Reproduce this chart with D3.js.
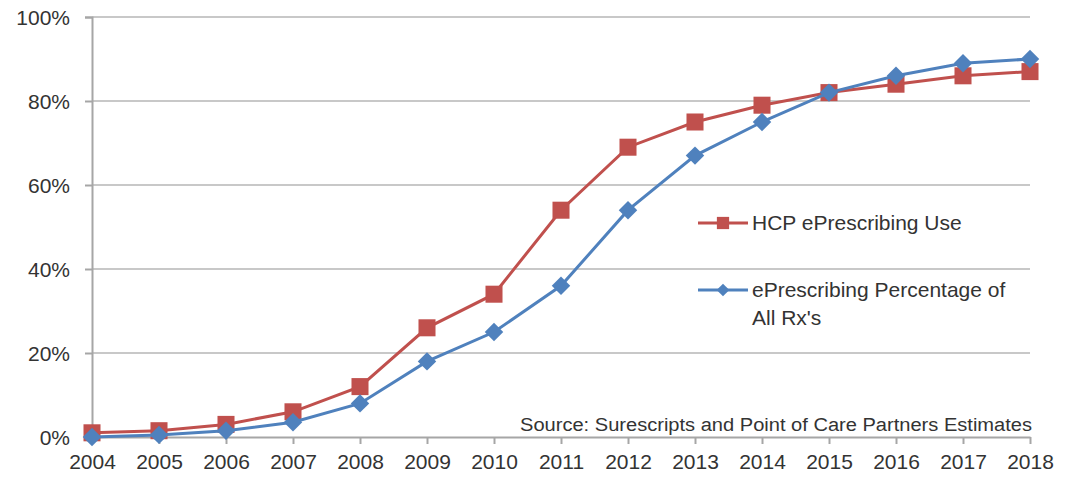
<!DOCTYPE html>
<html>
<head>
<meta charset="utf-8">
<script src="https://cdnjs.cloudflare.com/ajax/libs/d3/7.8.5/d3.min.js"></script>
<style>
  body { margin: 0; background: #fff; }
  svg text { font-family: "Liberation Sans", Arial, sans-serif; fill: #333; }
</style>
</head>
<body>
<div id="chart"></div>
<script>

// years on the x axis
var years = [2004, 2005, 2006, 2007, 2008, 2009, 2010, 2011, 2012, 2013, 2014, 2015, 2016, 2017, 2018];

// HCP ePrescribing Use (%)
var hcpUse = [1, 1.5, 3, 6, 12, 26, 34, 54, 69, 75, 79, 82, 84, 86, 87];

// ePrescribing Percentage of All Rx's (%)
var rxShare = [0, 0.5, 1.5, 3.5, 8, 18, 25, 36, 54, 67, 75, 82, 86, 89, 90];

var yTicks = [0, 20, 40, 60, 80, 100];

var seriesNames = ["HCP ePrescribing Use", "ePrescribing Percentage of", "All Rx's"];
var sourceNote = "Source: Surescripts and Point of Care Partners Estimates";

var red = "#C0504D";
var blue = "#4F81BD";

var width = 1065, height = 477;
var margin = {top: 17, right: 35, bottom: 40, left: 92};

var svg = d3.select("#chart").append("svg")
    .attr("width", width)
    .attr("height", height);

var x = d3.scaleLinear()
    .domain([2004, 2018])
    .range([margin.left, width - margin.right]);

var y = d3.scaleLinear()
    .domain([0, 100])
    .range([height - margin.bottom, margin.top]);

// gridlines
svg.append("g")
  .selectAll("line")
  .data(yTicks.filter(function(d) { return d > 0; }))
  .enter().append("line")
    .attr("x1", x(2004))
    .attr("x2", x(2018))
    .attr("y1", function(d) { return y(d); })
    .attr("y2", function(d) { return y(d); })
    .style("stroke", "#c8c8c8")
    .style("stroke-width", 2);

// y axis
var yAxis = d3.axisLeft(y)
    .tickValues(yTicks)
    .tickSize(7)
    .tickPadding(15)
    .tickFormat(function(d) { return d + "%"; });

var gy = svg.append("g")
    .attr("transform", "translate(" + margin.left + ",0)")
    .call(yAxis);
gy.select(".domain").style("stroke", "#a6a6a6").style("stroke-width", 2);
gy.selectAll(".tick line").style("stroke", "#a6a6a6").style("stroke-width", 2);
gy.selectAll(".tick text").style("font-size", "21px").attr("dy", "0.35em");

// x axis
var xAxis = d3.axisBottom(x)
    .tickValues(years)
    .tickSize(7)
    .tickSizeOuter(0)
    .tickPadding(10)
    .tickFormat(d3.format("d"));

var gx = svg.append("g")
    .attr("transform", "translate(0," + y(0) + ")")
    .call(xAxis);
gx.select(".domain").style("stroke", "#a6a6a6").style("stroke-width", 2);
gx.selectAll(".tick line").style("stroke", "#a6a6a6").style("stroke-width", 2);
gx.selectAll(".tick text").style("font-size", "21px");

// source note (stretched like the original)
svg.append("text")
    .attr("x", x(2018) + 2)
    .attr("y", y(0) - 6)
    .style("text-anchor", "end")
    .style("font-size", "18px")
    .attr("textLength", 512)
    .attr("lengthAdjust", "spacingAndGlyphs")
    .text(sourceNote);

var line = d3.line()
    .x(function(d, i) { return x(years[i]); })
    .y(function(d) { return y(d); });

var square = d3.symbol().type(d3.symbolSquare).size(290);
// rotated square reads as Excel's wide diamond
var diamond = d3.symbol().type(d3.symbolSquare).size(170);

// red series
svg.append("path")
    .datum(hcpUse)
    .attr("d", line)
    .style("fill", "none")
    .style("stroke", red)
    .style("stroke-width", 3);

svg.append("g")
  .selectAll("path")
  .data(hcpUse)
  .enter().append("path")
    .attr("d", square)
    .attr("transform", function(d, i) { return "translate(" + x(years[i]) + "," + y(d) + ")"; })
    .style("fill", red);

// blue series
svg.append("path")
    .datum(rxShare)
    .attr("d", line)
    .style("fill", "none")
    .style("stroke", blue)
    .style("stroke-width", 3);

svg.append("g")
  .selectAll("path")
  .data(rxShare)
  .enter().append("path")
    .attr("d", diamond)
    .attr("transform", function(d, i) { return "translate(" + x(years[i]) + "," + y(d) + ") rotate(45)"; })
    .style("fill", blue);

// legend
var legend = svg.append("g").attr("transform", "translate(698,0)");

legend.append("line")
    .attr("x1", 0).attr("x2", 50).attr("y1", 223).attr("y2", 223)
    .style("stroke", red).style("stroke-width", 3);
legend.append("path")
    .attr("d", d3.symbol().type(d3.symbolSquare).size(150))
    .attr("transform", "translate(25,223)")
    .style("fill", red);
legend.append("text")
    .attr("x", 54).attr("y", 223).attr("dy", "0.35em")
    .style("font-size", "21px")
    .text(seriesNames[0]);

legend.append("line")
    .attr("x1", 0).attr("x2", 50).attr("y1", 290).attr("y2", 290)
    .style("stroke", blue).style("stroke-width", 3);
legend.append("path")
    .attr("d", d3.symbol().type(d3.symbolSquare).size(80))
    .attr("transform", "translate(25,290) rotate(45)")
    .style("fill", blue);
legend.append("text")
    .attr("x", 54).attr("y", 290).attr("dy", "0.35em")
    .style("font-size", "21px")
    .text(seriesNames[1]);
legend.append("text")
    .attr("x", 54).attr("y", 318).attr("dy", "0.35em")
    .style("font-size", "21px")
    .text(seriesNames[2]);

</script>
</body>
</html>
